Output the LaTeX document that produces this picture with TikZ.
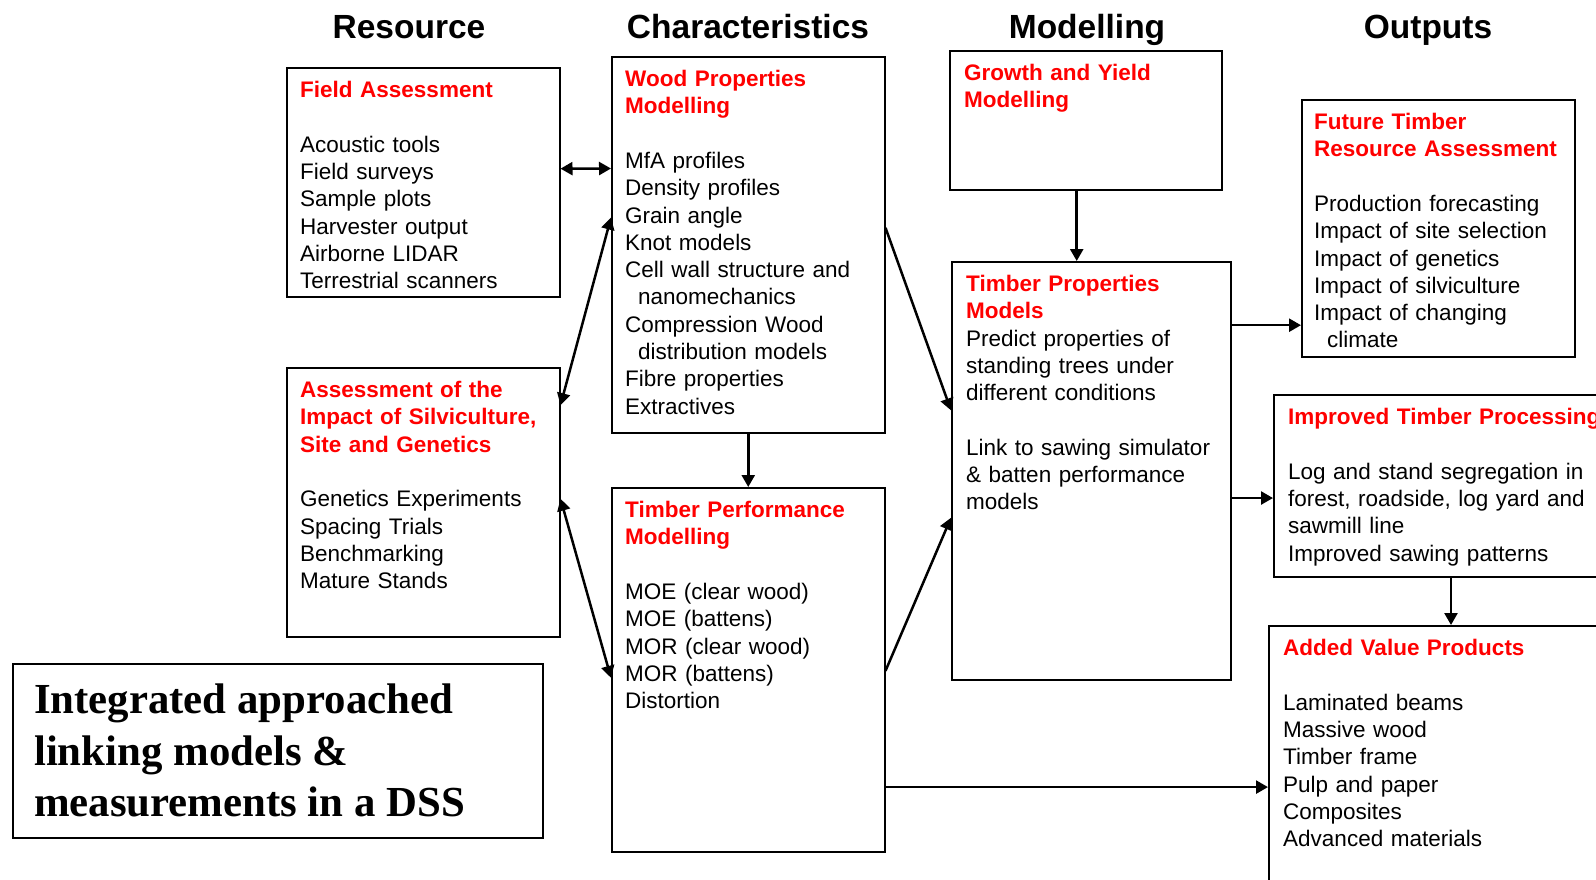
\documentclass[tikz,border=0pt]{standalone}
\usepackage{fontspec}
\setmainfont{Liberation Sans}
\newfontfamily\dssfont{Liberation Serif}
\usetikzlibrary{calc}
\usetikzlibrary{positioning}
\usetikzlibrary{arrows.meta}
\tikzset{
  box/.style={draw, line width=1.5pt, anchor=north west, inner sep=0pt},
  txt/.style={anchor=north west, text width=340pt, align=left, inner sep=0pt, font=\fontsize{22.5}{27.3}\selectfont},
  hdr/.style={anchor=base, font=\fontsize{33.5}{40}\selectfont\bfseries},
  link/.style={line width=2.5pt, -{Triangle[length=12pt,width=13pt]}},
  both/.style={line width=2.5pt, {Triangle[length=12pt,width=13pt]}-{Triangle[length=12pt,width=13pt]}}
}
\newcommand\ttl[1]{{\color{red}\bfseries #1}}

\begin{document}
\begin{tikzpicture}[x=1pt, y=-1pt]
  \useasboundingbox (0,0) rectangle (1596,879);
  \clip (0,0) rectangle (1596,879);

  \node[hdr] (hres) at (409,38) {Resource};
  \node[hdr] (hchar) at (748,38) {Characteristics};
  \node[hdr] (hmod) at (1087,38) {Modelling};
  \node[hdr] (hout) at (1428,38) {Outputs};

  \node[box, minimum width=273pt, minimum height=229pt] (fa) at (286,67) {};
  \node[box, minimum width=273pt, minimum height=269pt] (asg) at (286,367) {};
  \node[box, minimum width=273pt, minimum height=376pt] (wpm) at (611,56) {};
  \node[box, minimum width=273pt, minimum height=364pt] (tpm) at (611,487) {};
  \node[box, minimum width=272pt, minimum height=139pt] (gym) at (949,50) {};
  \node[box, minimum width=279pt, minimum height=418pt] (tpr) at (951,261) {};
  \node[box, minimum width=273pt, minimum height=257pt] (fta) at (1301,99) {};
  \node[box, minimum width=360pt, minimum height=182pt] (itp) at (1273,394) {};
  \node[box, minimum width=360pt, minimum height=300pt] (avp) at (1268,625) {};
  \node[box, minimum width=530pt, minimum height=174pt] (dss) at (12,663) {};

  \node[txt] (fa-t) at ([shift={(14,14)}]fa.north west) {\ttl{Field Assessment}\\[27.3pt]
    Acoustic tools\\Field surveys\\Sample plots\\Harvester output\\Airborne LIDAR\\Terrestrial scanners};
  \node[txt] (asg-t) at ([shift={(14,14)}]asg.north west) {\ttl{Assessment of the\\Impact of Silviculture,\\Site and Genetics}\\[27.3pt]
    Genetics Experiments\\Spacing Trials\\Benchmarking\\Mature Stands};
  \node[txt] (wpm-t) at ([shift={(14,14)}]wpm.north west) {\ttl{Wood Properties\\Modelling}\\[27.3pt]
    MfA profiles\\Density profiles\\Grain angle\\Knot models\\Cell wall structure and\\\hspace*{13pt}nanomechanics\\
    Compression Wood\\\hspace*{13pt}distribution models\\Fibre properties\\Extractives};
  \node[txt] (tpm-t) at ([shift={(14,14)}]tpm.north west) {\ttl{Timber Performance\\Modelling}\\[27.3pt]
    MOE (clear wood)\\MOE (battens)\\MOR (clear wood)\\MOR (battens)\\Distortion};
  \node[txt] (gym-t) at ([shift={(15,14)}]gym.north west) {\ttl{Growth and Yield\\Modelling}};
  \node[txt] (tpr-t) at ([shift={(15,14)}]tpr.north west) {\ttl{Timber Properties\\Models}\\
    Predict properties of\\standing trees under\\different conditions\\[27.3pt]
    Link to sawing simulator\\\& batten performance\\models};
  \node[txt] (fta-t) at ([shift={(13,14)}]fta.north west) {\ttl{Future Timber\\Resource Assessment}\\[27.3pt]
    Production forecasting\\Impact of site selection\\Impact of genetics\\Impact of silviculture\\
    Impact of changing\\\hspace*{13pt}climate};
  \node[txt] (itp-t) at ([shift={(15,14)}]itp.north west) {\ttl{Improved Timber Processing}\\[27.3pt]
    Log and stand segregation in\\forest, roadside, log yard and\\sawmill line\\Improved sawing patterns};
  \node[txt] (avp-t) at ([shift={(15,14)}]avp.north west) {\ttl{Added Value Products}\\[27.3pt]
    Laminated beams\\Massive wood\\Timber frame\\Pulp and paper\\Composites\\Advanced materials};
  \node[anchor=north west, align=left, inner sep=0pt, font=\fontsize{42.8}{51.5}\dssfont\bfseries] (dss-t)
    at ([shift={(22,21)}]dss.north west) {Integrated approached\\linking models \&\\measurements in a DSS};

  \draw[both] ($(fa.north east)!.441!(fa.south east)$) -- ($(wpm.north west)!.298!(wpm.south west)$);
  \draw[both] ($(wpm.north west)!.428!(wpm.south west)$) -- ($(asg.north east)!.141!(asg.south east)$);
  \draw[both] ($(asg.north east)!.487!(asg.south east)$) -- ($(tpm.north west)!.522!(tpm.south west)$);
  \draw[link] (wpm.south) -- (tpm.north);
  \draw[link] ($(wpm.north east)!.455!(wpm.south east)$) -- ($(tpr.north west)!.356!(tpr.south west)$);
  \draw[link] ($(tpm.north east)!.503!(tpm.south east)$) -- ($(tpr.north west)!.612!(tpr.south west)$);

  \coordinate (gy-out) at ($(gym.south west)!.467!(gym.south east)$);
  \coordinate (tp-out1) at ($(tpr.north east)!.153!(tpr.south east)$);
  \coordinate (tp-out2) at ($(tpr.north east)!.565!(tpr.south east)$);
  \coordinate (ip-out) at ($(itp.south west)+(178,0)$);
  \coordinate (pm-out) at ($(tpm.north east)!.821!(tpm.south east)$);
  \draw[link] (gy-out) -- (gy-out |- tpr.north);
  \draw[link] (tp-out1) -- (tp-out1 -| fta.west);
  \draw[link] (tp-out2) -- (tp-out2 -| itp.west);
  \draw[link] (ip-out) -- (ip-out |- avp.north);
  \draw[link] (pm-out) -- (pm-out -| avp.west);
\end{tikzpicture}
\end{document}
